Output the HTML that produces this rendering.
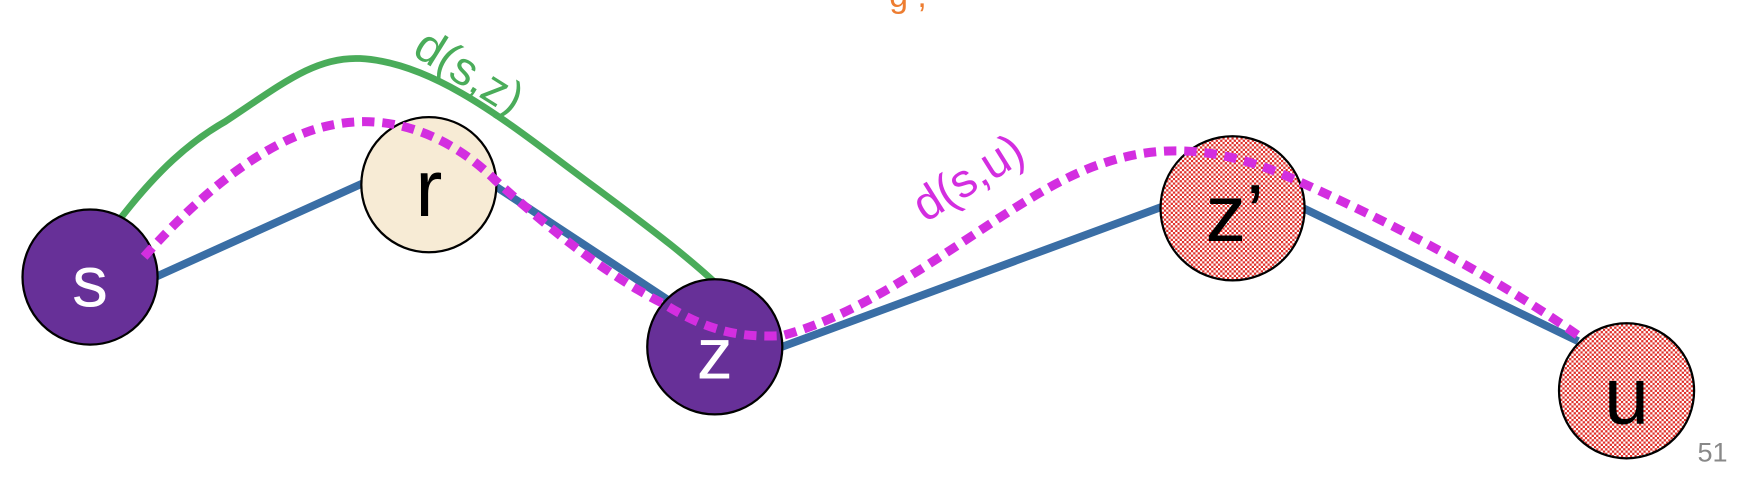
<!DOCTYPE html>
<html><head><meta charset="utf-8"><style>
html,body{margin:0;padding:0;background:#fff;width:1756px;height:482px;overflow:hidden}
svg{display:block}
text{font-family:"Liberation Sans","DejaVu Sans",sans-serif}
</style></head><body>
<svg width="1756" height="482" viewBox="0 0 1560 428" preserveAspectRatio="none">
<defs>
<pattern id="hatch" width="4" height="4" patternUnits="userSpaceOnUse">
<rect width="4" height="4" fill="#fff"/>
<rect x="0" y="0" width="2" height="2" fill="#e0302a"/>
<rect x="2" y="2" width="2" height="2" fill="#e0302a"/>
</pattern>
</defs>
<text x="790" y="6" font-size="30" fill="#ed7d31">g ,</text>
<g stroke="#3a6ea5" stroke-width="7">
<line x1="138" y1="246" x2="324" y2="162"/>
<line x1="438" y1="164" x2="602" y2="272"/>
<line x1="692" y1="309" x2="1034" y2="183"/>
<line x1="1156" y1="184" x2="1402" y2="303"/>
</g>
<path d="M100,203 C140,150 170,125 200,108 C250,75 280,50 320,52 C380,55 440,100 500,145 C560,190 610,225 650,265" fill="none" stroke="#4aac5a" stroke-width="6"/>
<g><circle cx="80" cy="246" r="60" fill="#673098" stroke="#000" stroke-width="2"/><text x="80" y="272" font-size="64" fill="#fff" text-anchor="middle">s</text></g>
<g><circle cx="381" cy="164" r="60" fill="#f7ebd5" stroke="#000" stroke-width="2"/><text x="381" y="192" font-size="72" fill="#000" text-anchor="middle">r</text></g>
<g><circle cx="635" cy="308" r="60" fill="#673098" stroke="#000" stroke-width="2"/><text x="635" y="336" font-size="64" fill="#fff" text-anchor="middle">z</text></g>
<g><circle cx="1095" cy="185" r="64" fill="url(#hatch)" stroke="#000" stroke-width="2"/><text x="1097" y="214" font-size="72" fill="#000" text-anchor="middle">z’</text></g>
<g><circle cx="1445" cy="347" r="60" fill="url(#hatch)" stroke="#000" stroke-width="2"/><text x="1445" y="376" font-size="72" fill="#000" text-anchor="middle">u</text></g>
<path d="M128,228 C180,170 240,120 300,110 C360,100 410,130 440,160 C490,205 540,245 590,270 C630,295 660,300 695,298 C800,270 900,170 980,145 C1030,128 1080,130 1140,155 C1220,190 1320,240 1405,300" fill="none" stroke="#d32ee0" stroke-width="8" stroke-dasharray="11 7"/>
<text x="0" y="0" font-size="42" fill="#4aac5a" transform="translate(365,48) rotate(32)">d(s,z)</text>
<text x="0" y="0" font-size="42" fill="#d32ee0" transform="translate(822,198) rotate(-32)">d(s,u)</text>
<text x="1508" y="410" font-size="24" fill="#888">51</text>
</svg>
</body></html>
